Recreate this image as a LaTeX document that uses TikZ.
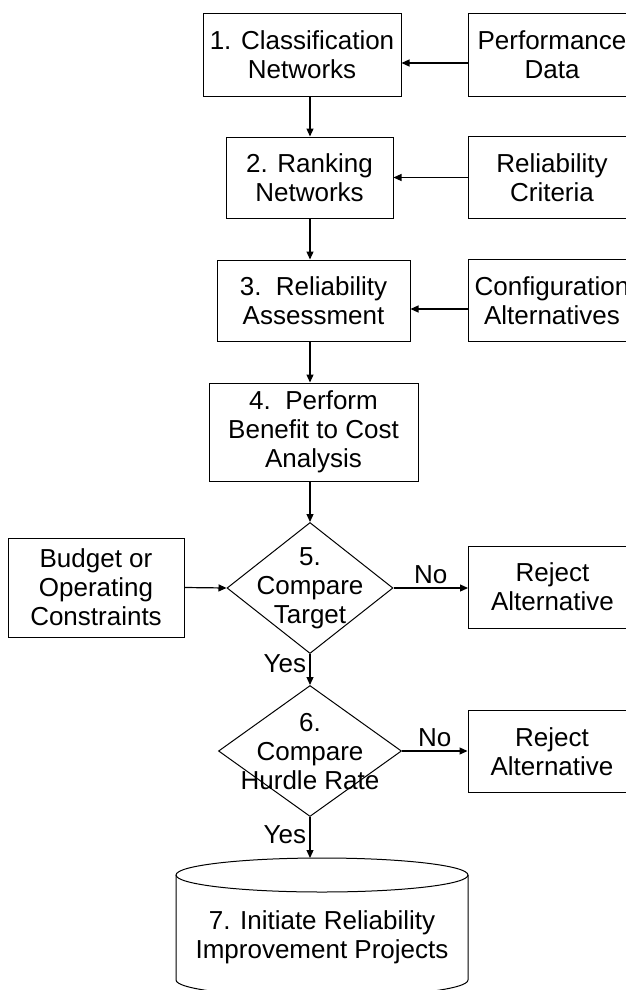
\documentclass[tikz,border=0pt]{standalone}
\usepackage{fontspec}
\setmainfont{Liberation Sans}
\usetikzlibrary{shapes.geometric,arrows.meta}

\begin{document}
\begin{tikzpicture}[x=1pt,y=1pt,
        font=\fontsize{26}{29}\selectfont,
        >={Triangle[length=8pt,width=7pt]},
        blk/.style={draw,line width=1pt,align=center,inner sep=0pt},
        side/.style={blk,minimum width=168pt,minimum height=82pt},
        dec/.style={draw,diamond,line width=1pt,inner sep=0pt,minimum height=131pt},
        arr/.style={->,line width=1.2pt}]
        \clip (0,0) rectangle (626,-990);
        % main chain
        \node[blk,minimum width=198pt,minimum height=82pt] (cls) at (302,-55) {1. Classification\\Networks};
        \node[blk,minimum width=167pt,minimum height=81pt] (rank) at (309.5,-177.5) {2. Ranking\\Networks};
        \node[blk,minimum width=193pt,minimum height=81pt] (assess) at (313.5,-300.5) {3.\ \ Reliability\\Assessment};
        \node[blk,minimum width=209pt,minimum height=98pt] (bca) at (313.5,-432) {4.\ \ Perform\\Benefit to Cost\\Analysis};
        \node[dec,minimum width=166pt] (dia5) at (310,-588) {};
        \node[align=center] (t5) at (310,-588) {5.\\Compare\\Target};
        \node[dec,minimum width=183pt] (dia6) at (310,-751) {};
        \node[align=center] (t6) at (310,-752) {6.\\Compare\\Hurdle Rate};
        % inputs on the right
        \node[side] (perf) at (552,-55) {Performance\\Data};
        \node[side] (crit) at (552,-177.5) {Reliability\\Criteria};
        \node[side] (config) at (552,-300.5) {Configuration\\Alternatives};
        \node[side] (rej5) at (552.5,-587) {Reject\\Alternative};
        \node[side] (rej6) at (552,-751.5) {Reject\\Alternative};
        \node[blk,minimum width=176pt,minimum height=99pt] (budget) at (96,-587.5) {Budget or\\Operating\\Constraints};
        % the store at the bottom
        \draw[line width=1pt] (322,-875) ellipse [x radius=146, y radius=17];
        \draw[line width=1pt] (176,-875) -- (176,-980)
            arc[start angle=180,end angle=360,x radius=146,y radius=17] -- (468,-875);
        \node[align=center] (proj) at (322,-937) {7. Initiate Reliability\\Improvement Projects};
        \coordinate (cyltop) at (310,-858);
        % connectors
        \draw[arr] (cls.south -| dia5.north) -- (rank.north -| dia5.north);
        \draw[arr] (rank.south -| dia5.north) -- (assess.north -| dia5.north);
        \draw[arr] (assess.south -| dia5.north) -- (bca.north -| dia5.north);
        \draw[arr] (bca.south -| dia5.north) -- (dia5.north);
        \draw[arr] ([yshift=-8pt]perf.west) -- ([yshift=-8pt]perf.west -| cls.east);
        \draw[arr] (crit.west) -- (crit.west -| rank.east);
        \draw[arr] ([yshift=-8.5pt]config.west) -- ([yshift=-8.5pt]config.west -| assess.east);
        \draw[arr] (budget.east) -- (dia5.west);
        \draw[arr] (dia5.east) -- (dia5.east -| rej5.west) node[midway,above] {No};
        \draw[arr] (dia5.south) -- (dia6.north) node[pos=0.3,left] {Yes};
        \draw[arr] (dia6.east) -- (dia6.east -| rej6.west) node[midway,above] {No};
        \draw[arr] (dia6.south) -- (cyltop) node[pos=0.42,left] {Yes};
\end{tikzpicture}
\end{document}
